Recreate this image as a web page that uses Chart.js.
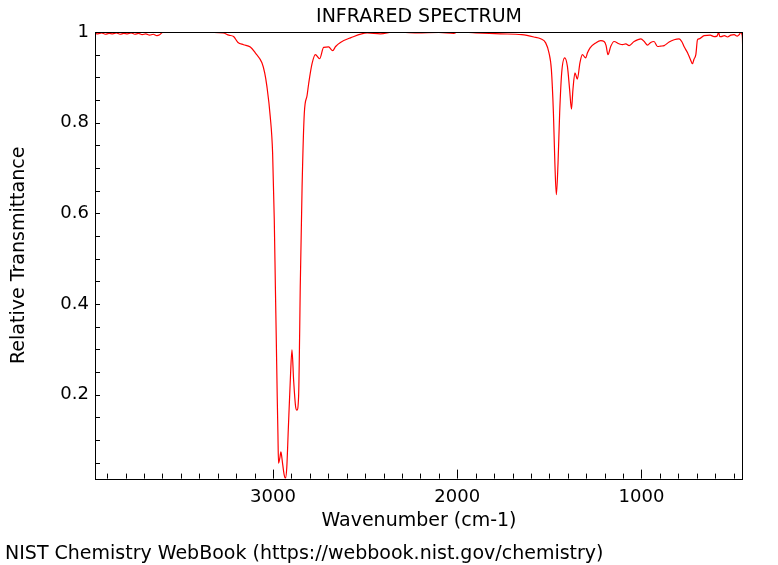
<!DOCTYPE html>
<html>
<head>
<meta charset="utf-8">
<title>Infrared spectrum</title>
<script src="https://cdn.jsdelivr.net/npm/chart.js@4.4.1/dist/chart.umd.min.js"></script>
<style>
  html, body { margin: 0; padding: 0; background: #fff; }
</style>
</head>
<body>
<canvas id="irChart" width="778" height="565"></canvas>
<script>
// spectrum, wavenumber (cm-1) descending
const wavenumbers = [
  3966, 3950, 3930, 3910, 3890, 3870, 3850, 3830, 3810, 3790,
  3770, 3750, 3730, 3710, 3690, 3670, 3650, 3630, 3615, 3600,
  3580, 3500, 3400, 3320, 3270, 3240, 3214, 3190, 3160, 3123,
  3096, 3060, 3045, 3033, 3015, 3002, 2993, 2987, 2982, 2977,
  2973, 2970, 2963, 2957, 2953, 2949, 2940, 2933, 2925, 2917,
  2906, 2897, 2888, 2877, 2870, 2861, 2855, 2852, 2842, 2830,
  2815, 2806, 2788, 2770, 2747, 2725, 2698, 2676, 2660, 2634,
  2580, 2489, 2417, 2345, 2217, 2100, 2018, 2000, 1900, 1765,
  1650, 1584, 1547, 1520, 1502, 1489, 1478, 1470, 1462, 1453,
  1444, 1433, 1417, 1402, 1390, 1380, 1372, 1361, 1348, 1334,
  1321, 1303, 1293, 1279, 1248, 1221, 1203, 1192, 1182, 1167,
  1149, 1122, 1103, 1085, 1067, 1040, 1003, 985, 967, 950,
  932, 913, 895, 877, 850, 823, 796, 780, 769, 750,
  735, 723, 715, 705, 696, 687, 660, 627, 606, 590,
  581, 575, 568, 550, 533, 515, 497, 480, 470, 461,
  455, 452, 450
];
const transmittance = [
  0.997, 0.996, 0.998, 0.995, 0.997, 0.996, 0.998, 0.995, 0.997, 0.996,
  0.998, 0.995, 0.997, 0.994, 0.996, 0.993, 0.995, 0.992, 0.994, 0.999,
  1.000, 1.000, 0.999, 0.999, 0.998, 0.993, 0.990, 0.977, 0.972, 0.967,
  0.954, 0.932, 0.910, 0.880, 0.814, 0.733, 0.586, 0.438, 0.320, 0.196,
  0.110, 0.049, 0.060, 0.074, 0.065, 0.052, 0.025, 0.015, 0.040, 0.122,
  0.232, 0.299, 0.232, 0.173, 0.166, 0.196, 0.343, 0.438, 0.659, 0.821,
  0.860, 0.887, 0.930, 0.950, 0.941, 0.966, 0.967, 0.959, 0.968, 0.977,
  0.987, 0.998, 0.996, 1.000, 0.998, 0.999, 0.997, 1.000, 0.998, 0.996,
  0.994, 0.989, 0.985, 0.976, 0.954, 0.917, 0.822, 0.710, 0.641, 0.710,
  0.822, 0.910, 0.943, 0.924, 0.873, 0.830, 0.873, 0.910, 0.896, 0.932,
  0.950, 0.943, 0.954, 0.965, 0.976, 0.981, 0.979, 0.970, 0.950, 0.968,
  0.979, 0.974, 0.972, 0.974, 0.970, 0.979, 0.985, 0.979, 0.971, 0.977,
  0.979, 0.968, 0.969, 0.970, 0.978, 0.983, 0.985, 0.978, 0.968, 0.954,
  0.940, 0.930, 0.940, 0.950, 0.983, 0.985, 0.992, 0.993, 0.990, 0.991,
  0.999, 0.990, 0.990, 0.992, 0.989, 0.993, 0.994, 0.991, 0.994, 0.999,
  0.995, 0.985, 0.940
];
const xTickValues = [3000, 2000, 1000];
const yTickValues = [0.2, 0.4, 0.6, 0.8, 1];

Chart.defaults.font.family = "'DejaVu Sans', sans-serif";
Chart.defaults.color = '#000';

// inward ticks + box frame, like the gnuplot-style original
const frameTicks = {
  id: 'frameTicks',
  afterDraw(chart) {
    const { ctx, chartArea: a, scales: { x, y } } = chart;
    ctx.save();
    ctx.strokeStyle = '#000';
    ctx.lineWidth = 1;
    ctx.beginPath();
    for (let v = 500; v <= 3900; v += 100) {
      const px = Math.round(x.getPixelForValue(v)) + 0.5;
      const len = v % 1000 === 0 ? 9 : 5;
      ctx.moveTo(px, a.bottom);
      ctx.lineTo(px, a.bottom - len);
    }
    for (let i = 1; i < 20; i++) {
      const py = Math.round(y.getPixelForValue(i * 0.05)) + 0.5;
      ctx.moveTo(a.left, py);
      ctx.lineTo(a.left + 5, py);
    }
    ctx.stroke();
    ctx.strokeRect(Math.round(a.left) + 0.5, Math.round(a.top) + 0.5,
      Math.round(a.right - a.left) - 1, Math.round(a.bottom - a.top));
    ctx.restore();
  }
};

const ctx = document.getElementById('irChart').getContext('2d');
new Chart(ctx, {
  type: 'line',
  data: {
    datasets: [{
      data: wavenumbers.map((w, i) => ({ x: w, y: transmittance[i] })),
      borderColor: '#ff0000',
      borderWidth: 1.2,
      pointRadius: 0,
      cubicInterpolationMode: 'monotone',
      fill: false
    }]
  },
  options: {
    responsive: false,
    animation: false,
    layout: { padding: { left: 5, right: 35, top: 0, bottom: 0 } },
    plugins: {
      legend: { display: false },
      tooltip: { enabled: false },
      title: {
        display: true,
        text: 'INFRARED SPECTRUM',
        fullSize: false,
        font: { size: 19, weight: 'normal' },
        padding: { top: 6, bottom: 3.2 }
      },
      subtitle: {
        display: true,
        text: 'NIST Chemistry WebBook (https://webbook.nist.gov/chemistry)',
        position: 'bottom',
        align: 'start',
        font: { size: 19, weight: 'normal' },
        padding: { top: 0, bottom: 0 }
      }
    },
    scales: {
      x: {
        type: 'linear',
        reverse: true,
        min: 449,
        max: 3966,
        afterBuildTicks: (scale) => { scale.ticks = xTickValues.map(v => ({ value: v })); },
        afterFit: (scale) => { scale.height = 63.6; },
        grid: { display: false, drawTicks: false },
        border: { display: false },
        ticks: { font: { size: 18 }, padding: 8, maxRotation: 0, callback: (v) => String(v) },
        title: {
          display: true,
          text: 'Wavenumber (cm-1)',
          font: { size: 19 },
          padding: { top: 0, bottom: 10 }
        }
      },
      y: {
        min: 0.015,
        max: 1,
        afterBuildTicks: (scale) => { scale.ticks = yTickValues.map(v => ({ value: v })); },
        afterFit: (scale) => { scale.width = 90; },
        grid: { display: false, drawTicks: false },
        border: { display: false },
        ticks: {
          font: { size: 18 },
          padding: 6,
          callback: (v) => (v === 1 ? '1' : v.toFixed(1))
        },
        title: {
          display: true,
          text: 'Relative Transmittance',
          font: { size: 19 },
          padding: { top: 3, bottom: 0 }
        }
      }
    }
  },
  plugins: [frameTicks]
});
</script>
</body>
</html>
